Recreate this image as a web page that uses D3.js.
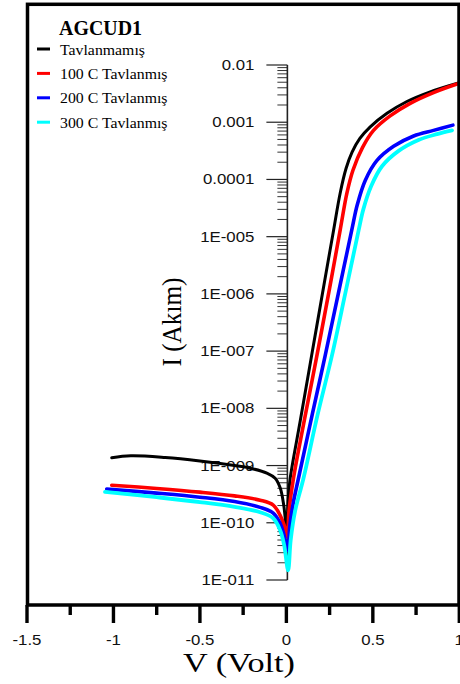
<!DOCTYPE html>
<html>
<head>
<meta charset="utf-8">
<script src="https://cdn.jsdelivr.net/npm/d3@7"></script>
<style>
  html, body { margin: 0; padding: 0; background: #fff; }
  svg { display: block; }
</style>
</head>
<body>
<svg id="chart" width="460" height="684"></svg>
<script>
// I–V characteristics of sample AGCUD1 (log current vs. voltage)
const chartTitle = "AGCUD1";
const seriesNames = ["Tavlanmamış", "100 C Tavlanmış", "200 C Tavlanmış", "300 C Tavlanmış"];
const seriesColors = ["#000000", "#ff0000", "#0000ff", "#00ffff"];

// Voltage (V) and current (A) for each anneal condition
const voltsAsGrown = [-1.01, -0.9, -0.7, -0.5, -0.3, -0.21, -0.113, -0.065, -0.035, -0.015, 0.002, 0.01, 0.022, 0.08, 0.15, 0.22, 0.273, 0.311, 0.345, 0.38, 0.425, 0.485, 0.582, 0.697, 0.832, 1.0];
const ampsAsGrown  = [1.365e-9, 1.48e-9, 1.38e-9, 1.2e-9, 1.0e-9, 9.0e-10, 7.4e-10, 6.0e-10, 4.0e-10, 2.0e-10, 7.4e-11, 2.5e-10, 6.0e-10, 6.0e-9, 9.8e-8, 1.6e-6, 1.3e-5, 5.75e-5, 1.55e-4, 3.0e-4, 5.2e-4, 8.3e-4, 1.43e-3, 2.3e-3, 3.4e-3, 4.9e-3];

const volts100 = [-1.01, -0.75, -0.5, -0.3, -0.152, -0.076, -0.036, -0.013, 0.005, 0.015, 0.041, 0.1, 0.177, 0.25, 0.311, 0.35, 0.385, 0.44, 0.504, 0.60, 0.716, 0.851, 1.0];
const amps100  = [4.54e-10, 3.98e-10, 3.43e-10, 2.95e-10, 2.48e-10, 2.04e-10, 1.35e-10, 9.1e-11, 5.6e-11, 1.58e-10, 6.0e-10, 5.4e-9, 8.5e-8, 1.26e-6, 1.3e-5, 5.75e-5, 1.45e-4, 3.6e-4, 7.2e-4, 1.29e-3, 2.14e-3, 3.3e-3, 4.8e-3];

const volts200 = [-1.039, -0.75, -0.5, -0.3, -0.152, -0.076, -0.036, -0.013, 0.008, 0.02, 0.04, 0.07, 0.15, 0.225, 0.30, 0.378, 0.41, 0.456, 0.524, 0.62, 0.736, 0.851, 0.963];
const amps200  = [3.9e-10, 3.3e-10, 2.8e-10, 2.35e-10, 1.86e-10, 1.48e-10, 9.8e-11, 6.0e-11, 3.3e-11, 8.9e-11, 2.24e-10, 6.0e-10, 7.9e-9, 8.5e-8, 1.0e-6, 1.3e-5, 3.6e-5, 9.6e-5, 2.15e-4, 3.8e-4, 5.75e-4, 7.2e-4, 8.9e-4];

const volts300 = [-1.049, -0.75, -0.5, -0.3, -0.152, -0.076, -0.036, -0.013, 0.01, 0.025, 0.05, 0.099, 0.18, 0.264, 0.34, 0.418, 0.445, 0.49, 0.553, 0.649, 0.764, 0.871, 0.958];
const amps300  = [3.47e-10, 2.8e-10, 2.3e-10, 1.9e-10, 1.53e-10, 1.2e-10, 7.4e-11, 4.1e-11, 1.48e-11, 5.0e-11, 1.58e-10, 6.0e-10, 7.6e-9, 8.5e-8, 1.0e-6, 1.3e-5, 3.0e-5, 7.6e-5, 1.7e-4, 3.16e-4, 4.9e-4, 6.2e-4, 7.2e-4];

// Axis ticks
const xMajorTicks = [-1.5, -1, -0.5, 0, 0.5, 1];
const xMinorTicks = [-1.25, -0.75, -0.25, 0.25, 0.75];
const yTickValues = [1e-2, 1e-3, 1e-4, 1e-5, 1e-6, 1e-7, 1e-8, 1e-9, 1e-10, 1e-11];
const yTickLabels = ["0.01", "0.001", "0.0001", "1E-005", "1E-006", "1E-007", "1E-008", "1E-009", "1E-010", "1E-011"];
const xAxisTitle = "V (Volt)";
const yAxisTitle = "I (Akım)";

const series = [
  { name: seriesNames[0], color: seriesColors[0], v: voltsAsGrown, i: ampsAsGrown, w: 3 },
  { name: seriesNames[1], color: seriesColors[1], v: volts100, i: amps100, w: 3.6 },
  { name: seriesNames[2], color: seriesColors[2], v: volts200, i: amps200, w: 3.6 },
  { name: seriesNames[3], color: seriesColors[3], v: volts300, i: amps300, w: 3.8 }
];

const SERIF = "'Liberation Serif', 'Times New Roman', serif";
const SANS = "'Liberation Sans', Arial, sans-serif";

const svg = d3.select("#chart");

const frame = { left: 27.5, top: 4.3, right: 459, bottom: 605 };
const x = d3.scaleLinear().domain([-1.5, 1]).range([27, 459.3]);
const y = d3.scaleLog().domain([1e-11, 1e-2]).range([580, 65]);

// widen text horizontally by factor k
function stretch(sel, k) {
  sel.each(function () {
    const w = this.getComputedTextLength();
    d3.select(this).attr("textLength", w * k).attr("lengthAdjust", "spacingAndGlyphs");
  });
}

// clip for curves
svg.append("defs").append("clipPath").attr("id", "plotClip")
  .append("rect")
  .attr("x", frame.left).attr("y", frame.top)
  .attr("width", frame.right - frame.left).attr("height", frame.bottom - frame.top);

// Y axis (at V = 0), ticks pointing left
const axisX = x(0) + 1;
const yAxisG = svg.append("g");
const minorY = [];
for (let k = -11; k <= -3; k++) {
  for (let m = 2; m <= 9; m++) minorY.push(m * Math.pow(10, k));
}
yAxisG.selectAll("line.minor").data(minorY).join("line")
  .attr("class", "minor")
  .attr("x1", axisX - 10).attr("x2", axisX)
  .attr("y1", d => y(d)).attr("y2", d => y(d))
  .attr("stroke", "#333").attr("stroke-width", 1);
yAxisG.selectAll("line.major").data(yTickValues).join("line")
  .attr("class", "major")
  .attr("x1", axisX - 21).attr("x2", axisX)
  .attr("y1", d => y(d)).attr("y2", d => y(d))
  .attr("stroke", "#222").attr("stroke-width", 1.2);
yAxisG.append("line")
  .attr("x1", axisX).attr("x2", axisX)
  .attr("y1", y(1e-2)).attr("y2", y(1e-11))
  .attr("stroke", "#222").attr("stroke-width", 1.6);

// curves
const line = d3.line()
  .x(d => x(d[0]))
  .y(d => y(d[1]))
  .curve(d3.curveCatmullRom.alpha(0.5));

svg.append("g").attr("clip-path", "url(#plotClip)")
  .selectAll("path").data(series).join("path")
  .attr("d", s => line(s.v.map((v, j) => [v, s.i[j]])))
  .attr("fill", "none")
  .attr("stroke", s => s.color)
  .attr("stroke-width", s => s.w)
  .attr("stroke-linejoin", "round")
  .attr("stroke-linecap", "round");

// Y tick labels (drawn after curves)
const yLabels = yAxisG.selectAll("text").data(yTickValues).join("text")
  .attr("x", axisX - 33)
  .attr("y", d => y(d))
  .attr("dy", "0.36em")
  .attr("text-anchor", "end")
  .attr("font-family", SANS)
  .attr("font-size", 14)
  .attr("fill", "#111")
  .text((d, j) => yTickLabels[j]);
stretch(yLabels, 1.2);

// frame
svg.append("rect")
  .attr("x", frame.left).attr("y", frame.top)
  .attr("width", frame.right - frame.left).attr("height", frame.bottom - frame.top)
  .attr("fill", "none").attr("stroke", "#000").attr("stroke-width", 3.5);

// X axis ticks below the frame
const xAxisG = svg.append("g");
xAxisG.selectAll("line.major").data(xMajorTicks).join("line")
  .attr("class", "major")
  .attr("x1", d => x(d)).attr("x2", d => x(d))
  .attr("y1", frame.bottom).attr("y2", 623)
  .attr("stroke", "#000").attr("stroke-width", 3.4);
xAxisG.selectAll("line.minor").data(xMinorTicks).join("line")
  .attr("class", "minor")
  .attr("x1", d => x(d)).attr("x2", d => x(d))
  .attr("y1", frame.bottom).attr("y2", 615)
  .attr("stroke", "#000").attr("stroke-width", 3.4);
const xLabels = xAxisG.selectAll("text").data(xMajorTicks).join("text")
  .attr("x", d => x(d))
  .attr("y", 645)
  .attr("text-anchor", "middle")
  .attr("font-family", SANS)
  .attr("font-size", 14)
  .attr("fill", "#111")
  .text(d => d3.format("")(d).replace("−", "-"));
stretch(xLabels, 1.2);

// axis titles
svg.append("text")
  .attr("x", 239).attr("y", 672)
  .attr("text-anchor", "middle")
  .attr("font-family", SERIF)
  .attr("font-size", 28)
  .attr("textLength", 112).attr("lengthAdjust", "spacingAndGlyphs")
  .text(xAxisTitle);

svg.append("text")
  .attr("transform", "translate(181,322) rotate(-90)")
  .attr("text-anchor", "middle")
  .attr("font-family", SERIF)
  .attr("font-size", 28)
  .attr("textLength", 89).attr("lengthAdjust", "spacingAndGlyphs")
  .text(yAxisTitle);

// legend
const legend = svg.append("g");
legend.append("text")
  .attr("x", 59).attr("y", 35)
  .attr("font-family", SERIF)
  .attr("font-size", 21)
  .attr("font-weight", "bold")
  .attr("textLength", 83).attr("lengthAdjust", "spacingAndGlyphs")
  .text(chartTitle);
const items = legend.selectAll("g.item").data(series).join("g")
  .attr("class", "item")
  .attr("transform", (d, j) => `translate(0, ${49 + j * 24.4})`);
items.append("line")
  .attr("x1", 37).attr("x2", 50).attr("y1", 0).attr("y2", 0)
  .attr("stroke", d => d.color).attr("stroke-width", 3);
const legendText = items.append("text")
  .attr("x", 60).attr("y", 5.5)
  .attr("font-family", SERIF)
  .attr("font-size", 15.5)
  .attr("fill", "#000")
  .text(d => d.name);
stretch(legendText, 1.02);
</script>
</body>
</html>
